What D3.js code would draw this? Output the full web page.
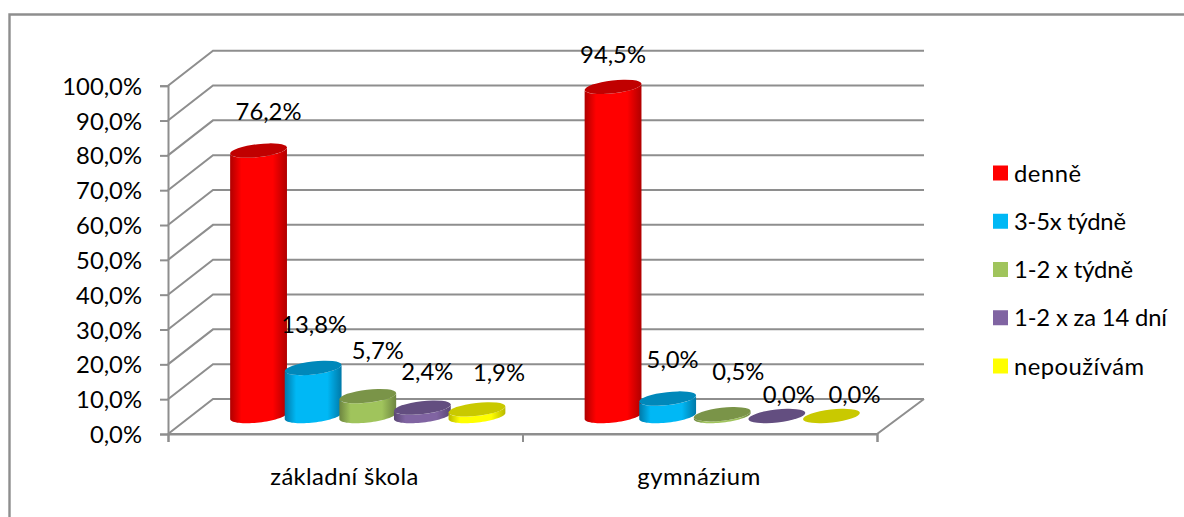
<!DOCTYPE html>
<html>
<head>
<meta charset="utf-8">
<script src="https://cdnjs.cloudflare.com/ajax/libs/d3/7.8.5/d3.min.js"></script>
<style>
html,body{margin:0;padding:0;background:#fff;overflow:hidden}
svg{display:block}
text{font-family:Lato,"Open Sans",sans-serif;fill:#000}
</style>
</head>
<body>
<svg id="chart" width="1184" height="517"></svg>
<script>
// ---- data ----
const categories = ["základní škola", "gymnázium"];
const seriesNames = ["denně", "3-5x týdně", "1-2 x týdně", "1-2 x za 14 dní", "nepoužívám"];
const zakladniSkola = [76.2, 13.8, 5.7, 2.4, 1.9];
const gymnazium = [94.5, 5.0, 0.5, 0.0, 0.0];
const yTicks = [0, 10, 20, 30, 40, 50, 60, 70, 80, 90, 100];
const values = [zakladniSkola, gymnazium];

// ---- styles ----
const seriesColors = ["#ff0000", "#00b8f5", "#a0c45c", "#8064a2", "#ffff00"];
const seriesTops = ["#c00000", "#0088ba", "#7a9448", "#634e80", "#c9c900"];
const seriesEdges = ["#b00000", "#0079a8", "#6d8540", "#5a4774", "#b8b800"];
const legendWidths = [67, 112, 119, 153, 130];
const categoryWidths = [148, 123];

// ---- layout ----
const svg = d3.select("#chart");
const fmt = v => v.toFixed(1).replace(".", ",") + "%";
const gridColor = "#8e8e8e";
const depthX = 45, depthXRight = 47, depthY = 35;
const y = d3.scaleLinear().domain([0, 100]).range([434, 85.7]);
const x0 = d3.scaleBand().domain(categories).range([168, 877]);
const x1 = d3.scaleBand().domain(seriesNames).range([0, 273]);
const groupPad = (x0.bandwidth() - 273) / 2;
const rx = 28.6, ry = 6.5, tilt = -6.5 * Math.PI / 180;
// manually placed data labels in the source chart: offset from the cylinder top
const labelShift = [
  [[10, -39], [1, -44], [10, -46], [5, -36], [22, -37]],
  [[0, -32], [5, -39], [16, -43], [12, -22], [23, -22]]
];
const baseY = y(0) - depthY / 2 - 0.5;
const centerX = (cat, name) => x0(cat) + groupPad + x1(name) + x1.bandwidth() / 2 + depthX / 2;
const topY = v => baseY - (y(0) - y(v));
// point on the tilted ellipse at parameter a
const ellipsePt = (cx, cy, a) => [
  cx + rx * Math.cos(a) * Math.cos(tilt) - ry * Math.sin(a) * Math.sin(tilt),
  cy + rx * Math.cos(a) * Math.sin(tilt) + ry * Math.sin(a) * Math.cos(tilt)
];
const angles = d3.range(0, 181, 5).map(d => d * Math.PI / 180);
const line = d3.line();

// frame
svg.append("path").attr("d", "M9.5,517V14.5H1184").attr("fill", "none")
  .attr("stroke", gridColor).attr("stroke-width", 2.4);

// gradients for the cylinder sides
const defs = svg.append("defs");
seriesColors.forEach((c, i) => {
  const g = defs.append("linearGradient").attr("id", "side" + i);
  g.append("stop").attr("offset", "0").attr("stop-color", seriesEdges[i]);
  g.append("stop").attr("offset", "0.2").attr("stop-color", c);
  g.append("stop").attr("offset", "0.75").attr("stop-color", c);
  g.append("stop").attr("offset", "1").attr("stop-color", seriesEdges[i]);
});

// walls and gridlines
const grid = svg.append("g").attr("fill", "none").attr("stroke", gridColor).attr("stroke-width", 2);
grid.selectAll("path").data(yTicks).join("path")
  .attr("d", t => `M${x0.range()[0]},${y(t)}l${depthX},${-depthY}H${x0.range()[1] + depthXRight}`);
grid.append("path")
  .attr("d", `M${x0.range()[0]},${y(0)}H${x0.range()[1]}l${depthXRight},${-depthY}`);

// axes
const yAxis = svg.append("g").attr("transform", `translate(${x0.range()[0]},0)`)
  .call(d3.axisLeft(y).tickValues(yTicks).tickFormat(fmt).tickSize(8).tickPadding(18));
const xScaleEdges = d3.scaleLinear().domain([0, categories.length]).range(x0.range());
const xAxis = svg.append("g").attr("transform", `translate(0,${y(0)})`)
  .call(d3.axisBottom(xScaleEdges).tickValues(d3.range(categories.length + 1)).tickFormat("").tickSize(8));
[yAxis, xAxis].forEach(a => {
  a.selectAll("path.domain, line").attr("stroke", gridColor).attr("stroke-width", 2);
});
yAxis.attr("font-size", null).attr("font-family", null);
yAxis.selectAll("text").attr("font-size", 23.8).attr("dy", "0.36em");
svg.append("g").selectAll("text").data(categories).join("text")
  .attr("x", d => x0(d) + x0.bandwidth() / 2 - 1)
  .attr("y", 485).attr("text-anchor", "middle").attr("font-size", 23.8)
  .attr("textLength", (d, i) => categoryWidths[i]).text(d => d);

// cylinders
categories.forEach((cat, ci) => {
  seriesNames.forEach((name, si) => {
    const v = values[ci][si];
    const cx = centerX(cat, name);
    const top = topY(v);
    const g = svg.append("g");
    const bottomArc = angles.map(a => ellipsePt(cx, baseY, Math.PI - a));
    const topArc = angles.map(a => ellipsePt(cx, top, a));
    g.append("path").attr("d", line(bottomArc.concat(topArc)) + "Z")
      .attr("fill", `url(#side${si})`);
    g.append("ellipse")
      .attr("rx", rx).attr("ry", ry)
      .attr("transform", `translate(${cx},${top}) rotate(${tilt * 180 / Math.PI})`)
      .attr("fill", seriesTops[si]);
  });
});

// data labels
categories.forEach((cat, ci) => {
  seriesNames.forEach((name, si) => {
    const v = values[ci][si];
    svg.append("text")
      .attr("x", centerX(cat, name) + labelShift[ci][si][0])
      .attr("y", topY(v) + labelShift[ci][si][1])
      .attr("dy", "0.36em").attr("text-anchor", "middle")
      .attr("font-size", 23.8).text(fmt(v));
  });
});

// legend
const legendY = d3.scalePoint().domain(seriesNames).range([173, 366]);
const legend = svg.append("g").selectAll("g").data(seriesNames).join("g")
  .attr("transform", d => `translate(993,${legendY(d)})`);
legend.append("rect").attr("y", -7.5).attr("width", 15).attr("height", 15)
  .attr("fill", (d, i) => seriesColors[i]);
legend.append("text").attr("x", 21).attr("dy", "0.36em").attr("font-size", 23.8)
  .attr("textLength", (d, i) => legendWidths[i]).text(d => d);
</script>
</body>
</html>
